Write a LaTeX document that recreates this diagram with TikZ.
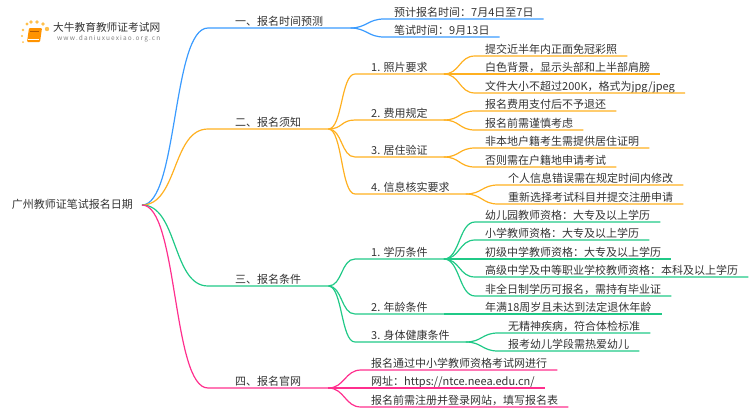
\documentclass[tikz,border=0pt]{standalone}
\usepackage{fontspec}
\setmainfont{Noto Sans CJK SC}
\usepackage{tikz}

\definecolor{topblue}{HTML}{3A9BFF}
\definecolor{toporange}{HTML}{FFB020}
\definecolor{topgreen}{HTML}{20C987}
\definecolor{toppink}{HTML}{FF2F8E}
\definecolor{inktext}{HTML}{333333}

\begin{document}
\begin{tikzpicture}[
  x=1pt,y=-1pt,
  entry/.style={anchor=south west,inner xsep=10pt,inner ysep=.5pt,text height=9pt,text depth=2pt,
    text=inktext,font=\fontsize{11}{13}\selectfont},
  topic/.style={entry,inner xsep=27pt},
  sub/.style={entry,inner xsep=16pt},
  link/.style={line width=1.2pt,line join=round}
]
\useasboundingbox (0,0) rectangle (750,410);

% logo
\foreach \x/\y/\r in {27/24/1.6,31/22/1.8,37/22/1.8,43/24/1.8,47/29/2.2,23/30/1.3,22/36/1.1,23/42/1}
  \fill[toporange!80] (\x,\y) circle (\r);
\fill[orange!85!yellow,rounded corners=1pt] (29,28) -- (42,28) -- (40,42) -- (27,42) -- cycle;
\draw[white,line width=.6pt] (28,39) -- (39,39);
\draw[orange!70!black,line width=.6pt] (30,31) -- (39,31);
\node[anchor=west,inner sep=0pt,text=inktext,font=\fontsize{10.7}{12}\selectfont] (brand) at (53,27) {大牛教育教师证考试网};
\node[anchor=west,inner sep=0pt,text=black!50,font=\fontsize{6.5}{8}\selectfont] (site) at (57,39) {w\,w\,w\,.\,d\,a\,n\,i\,u\,x\,u\,e\,x\,i\,a\,o\,.\,o\,r\,g\,.\,c\,n};

\node[anchor=east,inner sep=0pt,text=inktext,font=\fontsize{11}{13}\selectfont] (root) at (133,204) {广州教师证笔试报名日期};
\coordinate (rootout) at (142,205);

% first level
\foreach \name/\y/\label in {timing/28/一、报名时间预测,notice/129/二、报名须知,terms/286/三、报名条件,portal/388/四、报名官网}
  \node[topic] (\name) at (208,\y) {\label};

% second level
\foreach \name/\x/\y/\label in {
  photo/355/74/1. 照片要求,fee/355/120/2. 费用规定,stay/355/157/3. 居住验证,check/355/194/4. 信息核实要求,
  degree/355/259/1. 学历条件,age/355/314/2. 年龄条件,health/355/342/3. 身体健康条件}
  \node[sub] (\name) at (\x,\y) {\label};

% leaves
\foreach \name/\x/\y/\label in {
  signup/384/19/预计报名时间：7月4日至7日,exam/384/37/笔试时间：9月13日,
  photoa/475/56/提交近半年内正面免冠彩照,photob/475/74/白色背景，显示头部和上半部肩膀,photoc/475/93/{文件大小不超过200K，格式为jpg/jpeg},
  feea/475/111/报名费用支付后不予退还,feeb/475/130/报名前需谨慎考虑,
  staya/475/148/非本地户籍考生需提供居住证明,stayb/475/167/否则需在户籍地申请考试,
  checka/498/185/个人信息错误需在规定时间内修改,checkb/498/204/重新选择考试科目并提交注册申请,
  degreea/475/222/幼儿园教师资格：大专及以上学历,degreeb/475/240/小学教师资格：大专及以上学历,
  degreec/475/259/初级中学教师资格：大专及以上学历,degreed/475/277/高级中学及中等职业学校教师资格：本科及以上学历,
  degreee/475/296/非全日制学历可报名，需持有毕业证,agea/475/314/年满18周岁且未达到法定退休年龄,
  healtha/498/333/无精神疾病，符合体检标准,healthb/498/351/报考幼儿学段需热爱幼儿,
  portala/361/370/报名通过中小学教师资格考试网进行,portalb/361/388/{网址：https://ntce.neea.edu.cn/},portalc/361/407/报名前需注册并登录网站，填写报名表}
  \node[entry] (\name) at (\x,\y) {\label};

% branches
\foreach \from/\to/\col/\bend in {
  rootout/timing/topblue/36,rootout/notice/toporange/36,rootout/terms/topgreen/36,rootout/portal/toppink/36,
  timing.south east/signup/topblue/16,timing.south east/exam/topblue/16,
  notice.south east/photo/toporange/14,notice.south east/fee/toporange/14,notice.south east/stay/toporange/14,notice.south east/check/toporange/14,
  terms.south east/degree/topgreen/14,terms.south east/age/topgreen/14,terms.south east/health/topgreen/14,
  portal.south east/portala/toppink/16,portal.south east/portalb/toppink/16,portal.south east/portalc/toppink/16,
  photo.south east/photoa/toporange/16,photo.south east/photob/toporange/16,photo.south east/photoc/toporange/16,
  fee.south east/feea/toporange/16,fee.south east/feeb/toporange/16,
  stay.south east/staya/toporange/16,stay.south east/stayb/toporange/16,
  check.south east/checka/toporange/16,check.south east/checkb/toporange/16,
  degree.south east/degreea/topgreen/16,degree.south east/degreeb/topgreen/16,degree.south east/degreec/topgreen/16,degree.south east/degreed/topgreen/16,degree.south east/degreee/topgreen/16,
  age.south east/agea/topgreen/16,
  health.south east/healtha/topgreen/16,health.south east/healthb/topgreen/16}
  \draw[link,\col] (\from) .. controls +(\bend,0) and +(-\bend,0) .. (\to.south west) -- (\to.south east);

\end{tikzpicture}
\end{document}
